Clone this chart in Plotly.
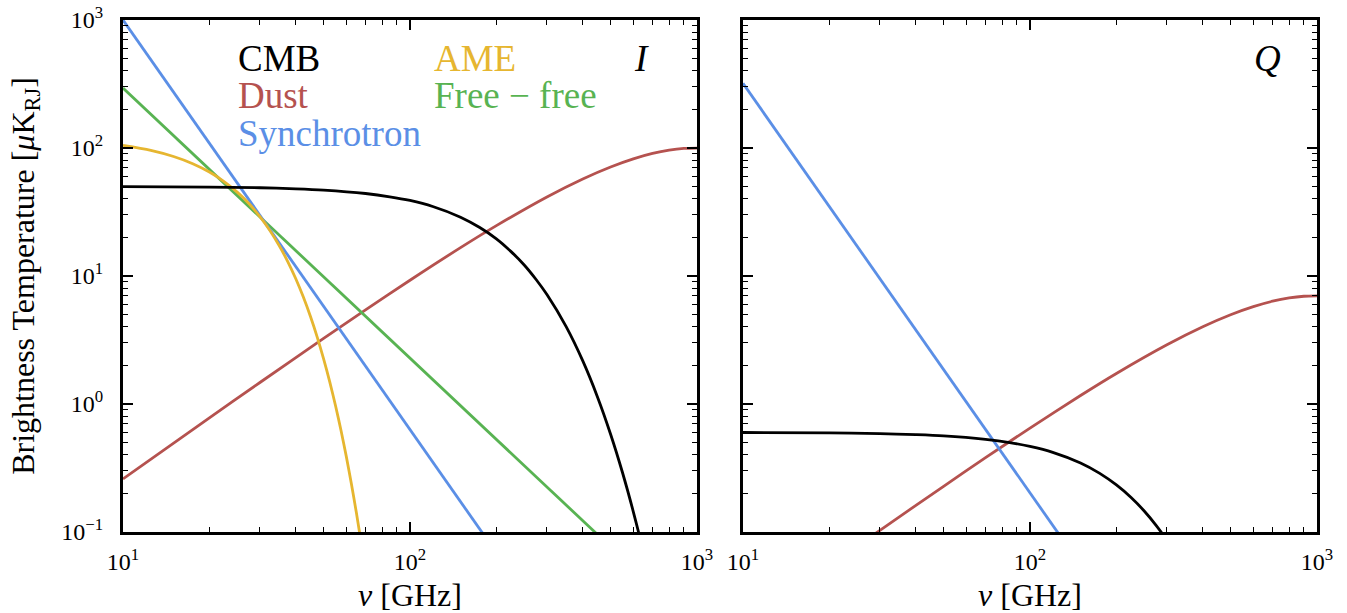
import plotly.graph_objects as go

# ---------------- data ----------------
# Left panel: intensity I
cmb_nu = [10, 20, 30, 40, 50, 70, 85, 100, 120, 150, 175, 200, 225, 250, 275, 300, 350, 400, 450, 500, 550, 600, 650, 700]
cmb_I = [49.9, 49.5, 48.9, 48.0, 46.9, 44.1, 41.6, 38.9, 34.9, 28.8, 23.9, 19.5, 15.5, 12.2, 9.39, 7.16, 4.02, 2.17, 1.136, 0.581, 0.2916, 0.1439, 0.070, 0.033]

dust_nu = [10, 20, 30, 50, 70, 100, 150, 200, 300, 400, 500, 600, 700, 800, 900, 1000]
dust_I = [0.26, 0.779, 1.472, 3.252, 5.437, 9.269, 16.66, 24.75, 41.49, 57.34, 71.13, 82.31, 90.74, 96.29, 99.26, 99.9]

sync_nu = [10, 20, 30, 50, 100, 200]
sync_I = [1000, 108.8, 29.7, 5.80, 0.631, 0.0687]

ame_nu = [10, 12.5, 15, 17.5, 20, 22.5, 25, 27.5, 30, 32.5, 35, 37.5, 40, 42.5, 45, 47.5, 50, 52.5, 55, 57.5, 60, 62.5, 65, 67.5, 70]
ame_I = [104.8, 95.8, 85.8, 75.4, 64.9, 54.7, 45.2, 36.7, 29.1, 22.7, 17.3, 12.96, 9.51, 6.84, 4.82, 3.33, 2.25, 1.495, 0.973, 0.620, 0.388, 0.237, 0.1425, 0.0839, 0.0484]

ff_nu = [10, 20, 30, 50, 100, 200, 300, 500]
ff_I = [294, 68.1, 28.96, 9.85, 2.282, 0.529, 0.2247, 0.0765]

# Right panel: polarisation Q
cmbq_nu = [10, 20, 30, 40, 50, 70, 85, 100, 120, 150, 175, 200, 225, 250, 275, 300, 350]
cmb_Q = [0.599, 0.594, 0.587, 0.576, 0.563, 0.529, 0.4995, 0.466, 0.419, 0.346, 0.287, 0.233, 0.186, 0.146, 0.1127, 0.0859, 0.0482]

dust_Q = [0.0182, 0.0545, 0.103, 0.2276, 0.3806, 0.6488, 1.166, 1.733, 2.904, 4.014, 4.979, 5.762, 6.352, 6.740, 6.948, 6.993]

sync_Q = [320, 34.8, 9.51, 1.856, 0.202, 0.0220]

x_tickvals = [10, 100, 1000]
x_ticktext = ["10<sup>1</sup>", "10<sup>2</sup>", "10<sup>3</sup>"]
y_tickvals = [0.1, 1, 10, 100, 1000]
y_ticktext = ["10<sup>−1</sup>", "10<sup>0</sup>", "10<sup>1</sup>", "10<sup>2</sup>", "10<sup>3</sup>"]
x_minor = [20, 30, 40, 50, 60, 70, 80, 90, 200, 300, 400, 500, 600, 700, 800, 900]
y_minor = [0.2, 0.3, 0.4, 0.5, 0.6, 0.7, 0.8, 0.9, 2, 3, 4, 5, 6, 7, 8, 9,
           20, 30, 40, 50, 60, 70, 80, 90, 200, 300, 400, 500, 600, 700, 800, 900]

C_CMB = "#000000"
C_DUST = "#b5524f"
C_SYNC = "#5b8fe6"
C_AME = "#e6b630"
C_FF = "#58b352"

FONT = "Liberation Serif"

fig = go.Figure()

def add(x, y, color, xa, ya, smooth=True):
    fig.add_trace(go.Scatter(
        x=x, y=y, mode="lines", xaxis=xa, yaxis=ya, showlegend=False,
        line=dict(color=color, width=2.8, shape="spline" if smooth else "linear",
                  smoothing=0.8 if smooth else None),
        hoverinfo="skip"))

# left panel
add(dust_nu, dust_I, C_DUST, "x", "y")
add(ff_nu, ff_I, C_FF, "x", "y", smooth=False)
add(sync_nu, sync_I, C_SYNC, "x", "y", smooth=False)
add(ame_nu, ame_I, C_AME, "x", "y")
add(cmb_nu, cmb_I, C_CMB, "x", "y")
# right panel
add(dust_nu, dust_Q, C_DUST, "x2", "y2")
add(sync_nu, sync_Q, C_SYNC, "x2", "y2", smooth=False)
add(cmbq_nu, cmb_Q, C_CMB, "x2", "y2")

W, H = 1347, 613

def px_x(p):
    return p / W

def px_y(p):
    return 1 - p / H

L1, R1 = px_x(123), px_x(697)
L2, R2 = px_x(743), px_x(1317)
TOP, BOT = px_y(20), px_y(532)

def xaxis(domain, anchor):
    return dict(
        type="log", range=[1, 3], domain=domain, anchor=anchor, automargin=False,
        tickmode="array", tickvals=x_tickvals, ticktext=x_ticktext,
        ticks="inside", ticklen=10, tickwidth=1.5, tickcolor="black",
        minor=dict(tickmode="array", tickvals=x_minor, ticks="inside", ticklen=5,
                   tickwidth=1.2, tickcolor="black", showgrid=False),
        showline=True, linecolor="black", linewidth=3, mirror="allticks",
        showgrid=False, zeroline=False, ticklabeloverflow="allow",
        tickfont=dict(family=FONT, size=24, color="black"),
        ticklabelstandoff=6,
        title=dict(text="<i>ν</i> [GHz]", font=dict(family=FONT, size=32, color="black"), standoff=10),
    )

def yaxis(anchor, labels):
    return dict(
        type="log", range=[-1, 3], domain=[BOT, TOP], anchor=anchor, automargin=False,
        tickmode="array", tickvals=y_tickvals, ticktext=y_ticktext,
        showticklabels=labels,
        ticks="inside", ticklen=10, tickwidth=1.5, tickcolor="black",
        minor=dict(tickmode="array", tickvals=y_minor, ticks="inside", ticklen=5,
                   tickwidth=1.2, tickcolor="black", showgrid=False),
        showline=True, linecolor="black", linewidth=3, mirror="allticks",
        showgrid=False, zeroline=False, ticklabeloverflow="allow",
        tickfont=dict(family=FONT, size=24, color="black"),
        ticklabelstandoff=12,
    )

ya1 = yaxis("x", True)
ya1["title"] = dict(text="Brightness Temperature [<i>μ</i>K<sub>RJ</sub>]",
                    font=dict(family=FONT, size=32, color="black"), standoff=18)

fig.update_layout(
    width=W, height=H,
    margin=dict(l=0, r=0, t=0, b=0, autoexpand=False),
    paper_bgcolor="white", plot_bgcolor="white",
    xaxis=xaxis([L1, R1], "y"),
    yaxis=ya1,
    xaxis2=xaxis([L2, R2], "y2"),
    yaxis2=yaxis("x2", False),
    font=dict(family=FONT, color="black"),
)

def label(text, xpx, ypx, color, size=37):
    fig.add_annotation(text=text, x=px_x(xpx), y=px_y(ypx), xref="paper", yref="paper",
                       xanchor="left", yanchor="middle", showarrow=False,
                       font=dict(family=FONT, size=size, color=color))

label("CMB", 236, 58, C_CMB)
label("Dust", 236, 96, C_DUST)
label("Synchrotron", 236, 134, C_SYNC)
label("AME", 432, 58, C_AME)
label("Free − free", 432, 96, C_FF)
label("<i>I</i>", 632, 58, C_CMB)
label("<i>Q</i>", 1252, 58, C_CMB)

# remove the default 8 px page margin so the figure fills the window exactly
fig.write_html("out.html", config={"displayModeBar": False},
               post_script="document.body.style.margin='0';")
